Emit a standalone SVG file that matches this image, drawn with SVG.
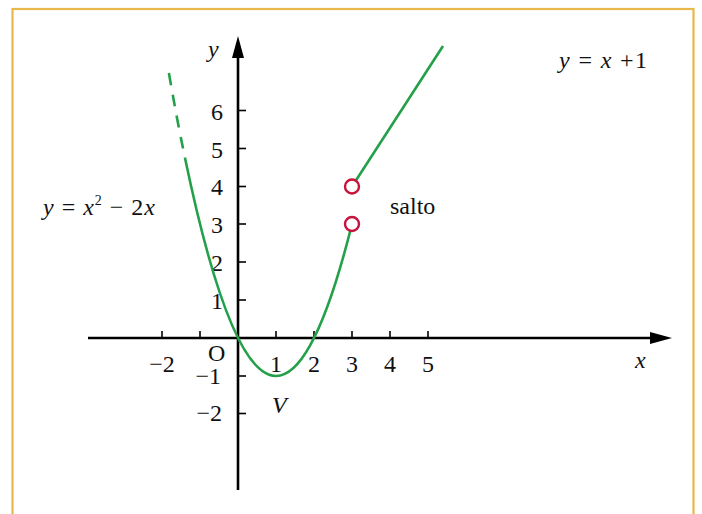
<svg xmlns="http://www.w3.org/2000/svg" width="702" height="514" viewBox="0 0 702 514">
<style>
.ax{stroke:#000;stroke-width:2.6;fill:none}
.tk{stroke:#000;stroke-width:1.6}
.cv{stroke:#24a04a;stroke-width:2.6;fill:none}
.t{font-family:"Liberation Serif","Times New Roman",serif;font-size:24px;fill:#111}
.i{font-style:italic}
.hole{fill:#fff;stroke:#c8143c;stroke-width:2.4}
</style>
<rect x="0" y="0" width="702" height="514" fill="#fff"/>
<rect x="12.5" y="9" width="681" height="520" fill="none" stroke="#e8b84a" stroke-width="2.2"/>
<g id="axes">
<line class="ax" x1="88" y1="338" x2="652" y2="338"/>
<polygon points="672,338 650,332 650,344" fill="#000"/>
<line class="ax" x1="238" y1="490" x2="238" y2="56"/>
<polygon points="238,36 232,58 244,58" fill="#000"/>
<g id="ticks">
<line class="tk" x1="162" y1="338" x2="162" y2="331"/>
<line class="tk" x1="200" y1="338" x2="200" y2="331"/>
<line class="tk" x1="276" y1="338" x2="276" y2="331"/>
<line class="tk" x1="314" y1="338" x2="314" y2="331"/>
<line class="tk" x1="352" y1="338" x2="352" y2="331"/>
<line class="tk" x1="390" y1="338" x2="390" y2="331"/>
<line class="tk" x1="428" y1="338" x2="428" y2="331"/>
<line class="tk" x1="238" y1="110.5" x2="246" y2="110.5"/>
<line class="tk" x1="238" y1="148.5" x2="246" y2="148.5"/>
<line class="tk" x1="238" y1="186.5" x2="246" y2="186.5"/>
<line class="tk" x1="238" y1="224" x2="246" y2="224"/>
<line class="tk" x1="238" y1="262" x2="246" y2="262"/>
<line class="tk" x1="238" y1="300" x2="246" y2="300"/>
<line class="tk" x1="238" y1="376" x2="246" y2="376"/>
<line class="tk" x1="238" y1="413.5" x2="246" y2="413.5"/>
</g>
</g>
<g id="axis-labels">
<text class="t i" x="208" y="57">y</text>
<text class="t i" x="635" y="368">x</text>
<text class="t" x="208" y="361">O</text>
<g text-anchor="middle">
<text class="t" x="162" y="372">−2</text>
<text class="t" x="276" y="372">1</text>
<text class="t" x="314" y="372">2</text>
<text class="t" x="352" y="372">3</text>
<text class="t" x="390" y="372">4</text>
<text class="t" x="428" y="372">5</text>
</g>
<g text-anchor="end">
<text class="t" x="223" y="120">6</text>
<text class="t" x="223" y="158">5</text>
<text class="t" x="223" y="195">4</text>
<text class="t" x="223" y="233">3</text>
<text class="t" x="223" y="271">2</text>
<text class="t" x="223" y="309">1</text>
<text class="t" x="221" y="384">−1</text>
<text class="t" x="222" y="421">−2</text>
</g>
</g>
<g id="curves">
<path class="cv" d="M168.9,73 Q176.9,119.4 185,158" stroke-dasharray="12,9.5"/>
<path class="cv" d="M185,158 Q268.5,558 352,224"/>
<line class="cv" x1="352" y1="186.5" x2="443" y2="46"/>
</g>
<g id="holes">
<circle class="hole" cx="352" cy="186.5" r="7"/>
<circle class="hole" cx="352" cy="224" r="7"/>
</g>
<g id="labels">
<text class="t" x="559" y="68" textLength="88" lengthAdjust="spacing"><tspan class="i">y</tspan> = <tspan class="i">x</tspan> +1</text>
<text class="t" x="43" y="215" textLength="112" lengthAdjust="spacing"><tspan class="i">y</tspan> = <tspan class="i">x</tspan><tspan font-size="14" dy="-10">2</tspan><tspan dy="10"> − 2</tspan><tspan class="i">x</tspan></text>
<text class="t" x="390" y="214">salto</text>
<text class="t i" x="272" y="413">V</text>
</g>
</svg>
